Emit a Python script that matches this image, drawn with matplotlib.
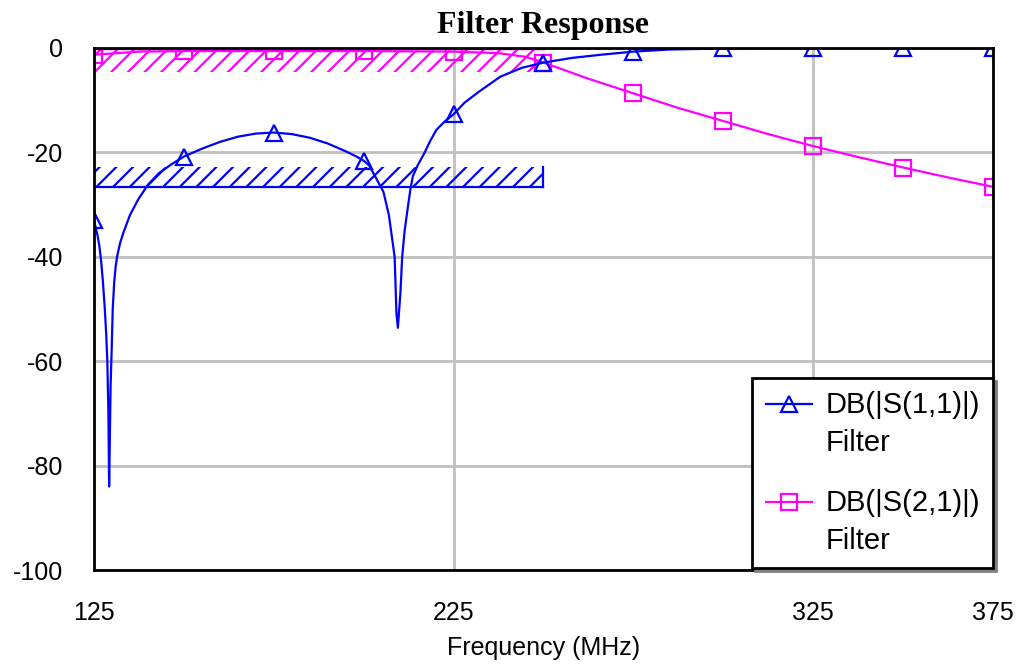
import matplotlib
matplotlib.use("Agg")
import matplotlib.pyplot as plt
import matplotlib.transforms as mtransforms
from matplotlib.lines import Line2D
from matplotlib.legend_handler import HandlerLine2D
import numpy as np

plt.rcParams['font.family'] = ['Liberation Sans', 'DejaVu Sans']
plt.rcParams['axes.unicode_minus'] = False
plt.rcParams['hatch.linewidth'] = 1.6

# S11 trace (MHz, dB)
s11_freq = [125, 125.5, 126, 126.5, 127, 127.5, 128, 128.4, 128.7, 129, 129.2,
            129.4, 129.6, 129.9, 130.2, 130.6, 131, 131.4, 132.2, 133.1, 135,
            137.3, 140, 143, 146.5, 150, 155, 160, 165, 170, 175, 180, 185,
            190, 195, 198, 200, 201.5, 203.5, 205.5, 207, 207.7, 208.6, 209.1,
            209.5, 210.2, 210.7, 211.4, 212.3, 213, 213.7, 215, 216.9, 218.5,
            220.2, 222.5, 225, 228, 232, 238, 244, 250, 258, 266, 275, 285,
            300, 325, 350, 375]
s11_db = [-33, -34.5, -36, -38, -41, -45, -50, -55, -60, -70, -84,
          -75, -65, -58, -50, -45, -42, -40, -37.5, -35.5, -32,
          -29, -26.2, -24, -22.3, -20.8, -19.3, -18, -17, -16.4, -16.2, -16.5, -17.2,
          -18.3, -19.8, -20.8, -21.6, -22.5, -25, -27.6, -32, -35.5, -40, -50.8,
          -53.6, -47, -40, -34.9, -30.4, -27, -24.5, -22.5, -20.1, -17.8,
          -15.7, -14.1, -12.7, -10.5, -8.4, -5.5, -3.8, -2.8, -1.9, -1.3, -0.7, -0.3,
          -0.1, 0, 0, 0]

# S21 trace (MHz, dB)
s21_freq = [125, 137.5, 150, 175, 200, 225, 237.5, 245, 250, 262.5, 275, 287.5,
            300, 312.5, 325, 337.5, 350, 362.5, 375]
s21_db = [-1.3, -0.7, -0.6, -0.6, -0.6, -0.7, -1.0, -1.7, -2.8, -5.9, -8.7, -11.5,
          -14.0, -16.5, -18.8, -20.9, -22.9, -24.8, -26.6]

marker_freq = [125, 150, 175, 200, 225, 250, 275, 300, 325, 350, 375]

# spec masks
s11_mask_f = [125, 250]
s11_mask_lo, s11_mask_hi = -26.6, -22.8
s21_mask_f = [125, 250]
s21_mask_lo, s21_mask_hi = -4.6, 0

blue = '#0000ff'
magenta = '#ff00ff'


# legend handle sits next to the first text line, not the middle of the label
class TopLineHandler(HandlerLine2D):
    def create_artists(self, legend, orig_handle, xdescent, ydescent,
                       width, height, fontsize, trans):
        arts = super().create_artists(legend, orig_handle, xdescent, ydescent,
                                      width, height, fontsize, trans)
        shift = mtransforms.Affine2D().translate(0, 15) + trans
        for a in arts:
            a.set_transform(shift)
        return arts


fig = plt.figure(figsize=(10.22, 6.66), dpi=100)
ax = fig.add_axes([0.092, 0.1441, 0.8796, 0.7839])

# masks
ax.fill_between(s21_mask_f, s21_mask_lo, s21_mask_hi, facecolor='none',
                edgecolor=magenta, hatch='//', linewidth=0)
ax.plot(s21_mask_f, [s21_mask_hi] * 2, color=magenta, lw=2.5)
ax.fill_between(s11_mask_f, s11_mask_lo, s11_mask_hi, facecolor='none',
                edgecolor=blue, hatch='//', linewidth=0)
ax.plot(s11_mask_f, [s11_mask_lo] * 2, color=blue, lw=1.6)
ax.plot([s11_mask_f[1]] * 2, [s11_mask_lo, s11_mask_hi], color=blue, lw=1.6)

f21 = np.array(s21_freq)
f11 = np.array(s11_freq)
ax.plot(f21, s21_db, color=magenta, lw=1.6, marker='s', ms=12, mfc='none',
        mec=magenta, mew=1.6, markevery=list(np.where(np.isin(f21, marker_freq))[0]))
ax.plot(f11, s11_db, color=blue, lw=1.6, marker='^', ms=12, mfc='none',
        mec=blue, mew=1.6, markevery=list(np.where(np.isin(f11, marker_freq))[0]))

ax.set_xlim(125, 375)
ax.set_ylim(-100, 0)
ax.set_xticks([125, 225, 325, 375])
ax.set_yticks([-100, -80, -60, -40, -20, 0])
ax.set_yticklabels(['-100', '-80', '-60', '-40', '-20', '0'])
ax.tick_params(length=0, labelsize=18)
ax.tick_params(axis='y', pad=22)
ax.tick_params(axis='x', pad=22)
ax.grid(True, color='#c0c0c0', lw=2)
ax.set_axisbelow(True)
for s in ax.spines.values():
    s.set_linewidth(2)
    s.set_color('black')

ax.set_xlabel('Frequency (MHz)', fontsize=18, labelpad=8)
ax.set_title('Filter Response', fontsize=23, fontweight='bold',
             family=['Liberation Serif', 'DejaVu Serif'], pad=11)

handles = [Line2D([], [], color=blue, lw=1.6, marker='^', ms=11, mfc='none', mec=blue, mew=1.6),
           Line2D([], [], color=magenta, lw=1.6, marker='s', ms=12, mfc='none', mec=magenta, mew=1.6)]
leg = ax.legend(handles, ['DB(|S(1,1)|)\nFilter', 'DB(|S(2,1)|)\nFilter'],
                loc='lower right', bbox_to_anchor=(1.0, 0.004), borderaxespad=0,
                fontsize=21, fancybox=False, shadow={'color': '#808080', 'alpha': 1},
                framealpha=1, edgecolor='black', handlelength=1.6, handletextpad=0.45,
                labelspacing=1.1, borderpad=0.45,
                handler_map={Line2D: TopLineHandler()})
leg.get_frame().set_linewidth(2)
for t in leg.get_texts():
    t.set_linespacing(1.45)

fig.savefig('out.png', dpi=100)
